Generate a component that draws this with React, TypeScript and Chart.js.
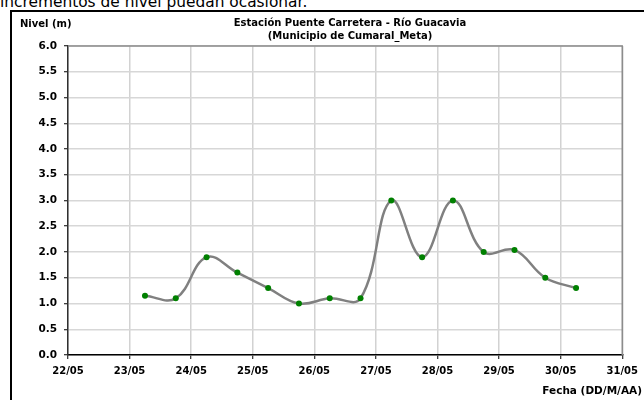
import React, { useEffect, useRef } from "react";
import { Chart, registerables } from "chart.js";

Chart.register(...registerables);

// Datos (días de mayo; .25 = 06:00, .75 = 18:00)
const dias = [23.25, 23.75, 24.25, 24.75, 25.25, 25.75, 26.25, 26.75, 27.25, 27.75, 28.25, 28.75, 29.25, 29.75, 30.25];
const niveles = [1.15, 1.1, 1.9, 1.6, 1.3, 1.0, 1.1, 1.1, 3.0, 1.9, 3.0, 2.0, 2.04, 1.5, 1.3];
const etiquetasFecha = ["22/05", "23/05", "24/05", "25/05", "26/05", "27/05", "28/05", "29/05", "30/05", "31/05"];
const diaInicial = 22;
const tituloLineas = ["Estación Puente Carretera - Río Guacavia", "(Municipio de Cumaral_Meta)"];
const tituloY = "Nivel (m)";
const tituloX = "Fecha (DD/M/AA)";
const textoSuperior = "incrementos de nivel puedan ocasionar.";

const FONT = '"DejaVu Sans", sans-serif';

export default function App() {
  const ref = useRef<HTMLCanvasElement | null>(null);

  useEffect(() => {
    if (!ref.current) return;
    const textPlugin = {
      id: "textos",
      afterDraw(chart: any) {
        const ctx = chart.ctx;
        const a = chart.chartArea;
        ctx.save();
        // plot frame top/right
        ctx.strokeStyle = "#8c8c8c";
        ctx.lineWidth = 1.5;
        ctx.beginPath();
        ctx.moveTo(a.left, a.top);
        ctx.lineTo(a.right, a.top);
        ctx.lineTo(a.right, a.bottom);
        ctx.stroke();
        ctx.fillStyle = "#000";
        ctx.font = `bold 10px ${FONT}`;
        ctx.textBaseline = "middle";
        ctx.textAlign = "center";
        ctx.fillText(tituloLineas[0], 350, 23);
        ctx.fillText(tituloLineas[1], 350, 36);
        ctx.textAlign = "left";
        ctx.fillText(tituloY, 20, 24);
        ctx.textAlign = "right";
        ctx.font = `bold 10.5px ${FONT}`;
        ctx.fillText(tituloX, 642, 391);
        ctx.restore();
      },
    };

    const chart = new Chart(ref.current, {
      type: "line",
      data: {
        datasets: [
          {
            data: dias.map((d, i) => ({ x: d - diaInicial, y: niveles[i] })),
            borderColor: "#808080",
            borderWidth: 2.5,
            tension: 0.4,
            pointRadius: 3,
            pointBackgroundColor: "#008000",
            pointBorderWidth: 0,
            fill: false,
          },
        ],
      },
      options: {
        animation: false,
        responsive: false,
        devicePixelRatio: 1,
        layout: { padding: { left: 0, top: 46, right: 20, bottom: 0 } },
        plugins: { legend: { display: false }, tooltip: { enabled: false }, title: { display: false } },
        scales: {
          x: {
            type: "linear",
            min: 0,
            max: etiquetasFecha.length - 1,
            afterFit: (s: any) => {
              s.height = 45;
            },
            ticks: {
              stepSize: 1,
              autoSkip: false,
              maxRotation: 0,
              padding: 6,
              color: "#000",
              font: { family: FONT, size: 10, weight: "bold" },
              callback: (v: any) => etiquetasFecha[Math.round(Number(v))] ?? "",
            },
            grid: { color: "#d2d2d2", lineWidth: 1.5, tickColor: "#000", tickLength: 4, tickWidth: 1 },
            border: { color: "#000", width: 1.5 },
          },
          y: {
            min: 0,
            max: 6,
            afterFit: (s: any) => {
              s.width = 68;
            },
            ticks: {
              stepSize: 0.5,
              padding: 7,
              color: "#000",
              font: { family: FONT, size: 10.5, weight: "bold" },
              callback: (v: any) => Number(v).toFixed(1),
            },
            grid: { color: "#d7d7d7", lineWidth: 1.5, tickColor: "#000", tickLength: 4, tickWidth: 1 },
            border: { color: "#303030", width: 1.5 },
          },
        },
      },
      plugins: [textPlugin],
    });
    return () => chart.destroy();
  }, []);

  return (
    <div style={{ position: "fixed", left: 0, top: 0, width: 644, height: 400, overflow: "hidden", background: "#fff" }}>
      <div
        style={{
          position: "absolute",
          left: 0,
          top: -5,
          font: `15.4px ${FONT}`,
          lineHeight: "15.4px",
          whiteSpace: "nowrap",
          color: "#000",
        }}
      >
        {textoSuperior}
      </div>
      <div
        style={{
          position: "absolute",
          left: 10,
          top: 10,
          width: 700,
          height: 500,
          border: "2px solid #000",
        }}
      />
      <canvas ref={ref} width={644} height={400} style={{ position: "absolute", left: 0, top: 0, width: 644, height: 400 }} />
    </div>
  );
}
